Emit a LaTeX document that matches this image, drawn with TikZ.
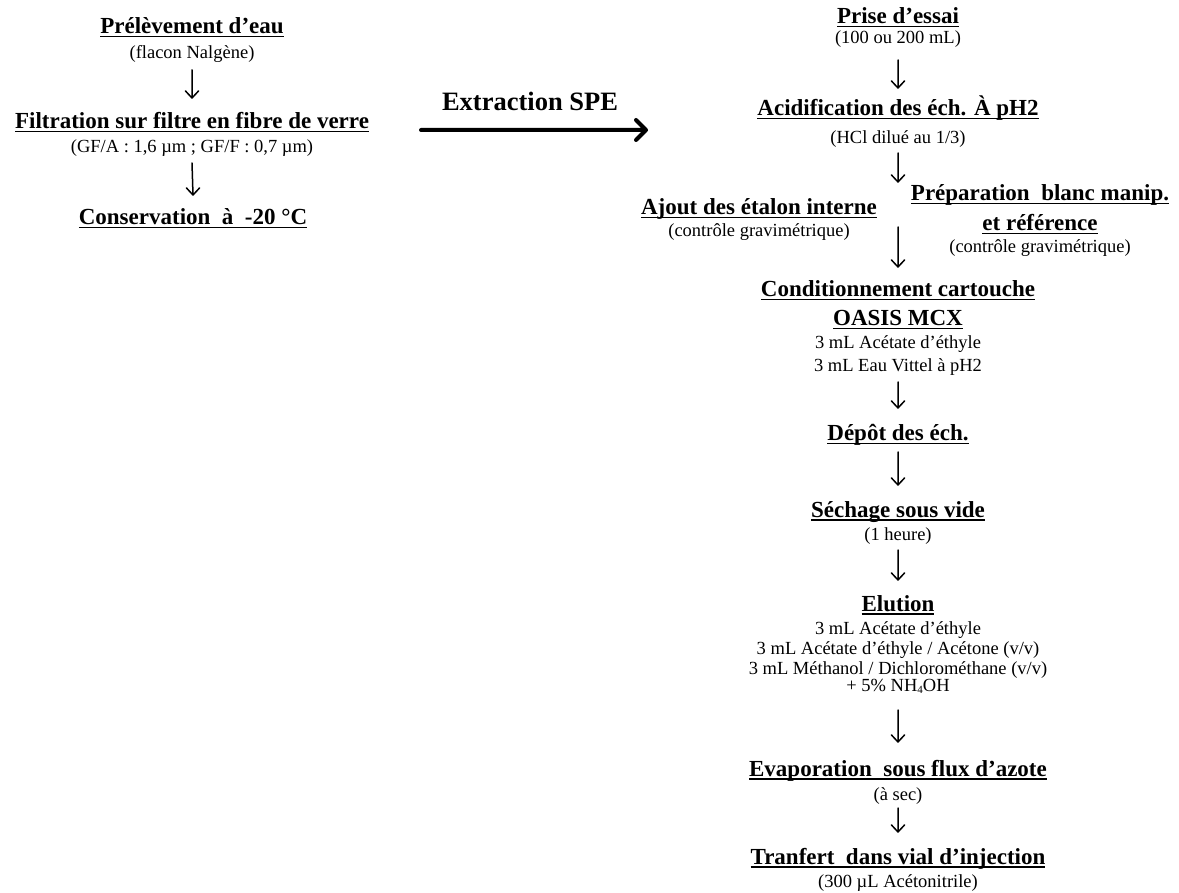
\documentclass[tikz,border=0pt]{standalone}
\usepackage{fontspec}
\setmainfont{Liberation Serif}[Ligatures=NoCommon]
\newcommand\ulx[1]{\leavevmode\setbox0=\hbox{#1}\rlap{\rule[-3.5pt]{\wd0}{1.7pt}}\box0}
\tikzset{
  ttl/.style={font=\fontsize{23}{29}\selectfont\bfseries, inner sep=0pt, anchor=base},
  sub/.style={font=\fontsize{18.5}{20}\selectfont, inner sep=0pt, anchor=base},
  darr/.style={line width=1.5pt, line cap=round, line join=round,
    to path={-- (\tikztotarget) -- ++(-6.5,7) (\tikztotarget) -- ++(6.5,7)}},
  bigarr/.style={line width=4pt, line cap=round, line join=round,
    to path={-- (\tikztotarget) -- ++(-10,10) (\tikztotarget) -- ++(-10,-10)}},
}
\begin{document}
\begin{tikzpicture}[x=1pt,y=1pt]
\useasboundingbox (0,0) rectangle (1179,-893);
% left column
\node[ttl] (prel) at (192,-34) {\ulx{Prélèvement d’eau}};
\node[sub] (flacon) at (192,-59) {(flacon Nalgène)};
\node[ttl] (filt) at (192,-129) {\ulx{Filtration sur filtre en fibre de verre}};
\node[sub] (gf) at (192,-153) {(GF/A : 1,6 µm ; GF/F : 0,7 µm)};
\node[ttl] (cons) at (193,-225) {\ulx{Conservation \ à \ -20 °C}};
\draw[darr] ([yshift=-11pt]flacon.base) to ([yshift=31pt]filt.base);
\draw[darr] ([yshift=-10pt]gf.base) to ([yshift=30pt]cons.base);
% SPE arrow
\node[font=\fontsize{26.5}{30}\selectfont\bfseries, inner sep=0pt, anchor=base] (spe) at (530,-111) {Extraction SPE};
\coordinate (speA) at (421,-130);
\coordinate (speB) at (646,-130);
\draw[bigarr] (speA) to (speB);
% right column
\node[ttl] (prise) at (898,-24) {\ulx{Prise d’essai}};
\node[sub] (prise2) at (898,-44) {(100 ou 200 mL)};
\node[ttl] (acid) at (898,-116) {\ulx{Acidification des éch. À pH2}};
\node[sub] (hcl) at (898,-144) {(HCl dilué au 1/3)};
\node[ttl] (ajout) at (759,-215) {\ulx{Ajout des étalon interne}};
\node[sub] (ajout2) at (759,-237) {(contrôle gravimétrique)};
\node[ttl] (prep) at (1040,-201) {\ulx{Préparation \ blanc manip.}};
\node[ttl] (prepb) at (1040,-231) {\ulx{et référence}};
\node[sub] (prep2) at (1040,-253) {(contrôle gravimétrique)};
\node[ttl] (cond) at (898,-297) {\ulx{Conditionnement cartouche}};
\node[ttl] (oasis) at (898,-326) {\ulx{OASIS MCX}};
\node[sub] (cond1) at (898,-349) {3 mL Acétate d’éthyle};
\node[sub] (cond2) at (898,-372) {3 mL Eau Vittel à pH2};
\node[ttl] (depot) at (898,-441) {\ulx{Dépôt des éch.}};
\node[ttl] (sech) at (898,-517) {\ulx{Séchage sous vide}};
\node[sub] (sech2) at (898,-540) {(1 heure)};
\node[ttl] (elu) at (898,-611) {\ulx{Elution}};
\node[sub] (elu1) at (898,-634) {3 mL Acétate d’éthyle};
\node[sub] (elu2) at (898,-654) {3 mL Acétate d’éthyle / Acétone (v/v)};
\node[sub] (elu3) at (898,-674) {3 mL Méthanol / Dichlorométhane (v/v)};
\node[sub] (elu4) at (898,-691) {+ 5\% NH\raisebox{-2.5pt}{\fontsize{11}{11}\selectfont 4}OH};
\node[ttl] (evap) at (898,-776) {\ulx{Evaporation \ sous flux d’azote}};
\node[sub] (evap2) at (898,-800) {(à sec)};
\node[ttl] (tranf) at (898,-864) {\ulx{Tranfert \ dans vial d’injection}};
\node[sub] (tranf2) at (898,-887) {(300 µL Acétonitrile)};
\coordinate (j1) at (898,-182);
\coordinate (j2) at (898,-227);
\draw[darr] ([yshift=-16pt]prise2.base) to ([yshift=28pt]acid.base);
\draw[darr] ([yshift=-9pt]hcl.base) to (j1);
\draw[darr] (j2) to ([yshift=30pt]cond.base);
\draw[darr] ([yshift=-10pt]cond2.base) to ([yshift=33pt]depot.base);
\draw[darr] ([yshift=-11pt]depot.base) to ([yshift=32pt]sech.base);
\draw[darr] ([yshift=-10pt]sech2.base) to ([yshift=31pt]elu.base);
\draw[darr] ([yshift=-19pt]elu4.base) to ([yshift=34pt]evap.base);
\draw[darr] ([yshift=-8pt]evap2.base) to ([yshift=32pt]tranf.base);
\end{tikzpicture}
\end{document}
